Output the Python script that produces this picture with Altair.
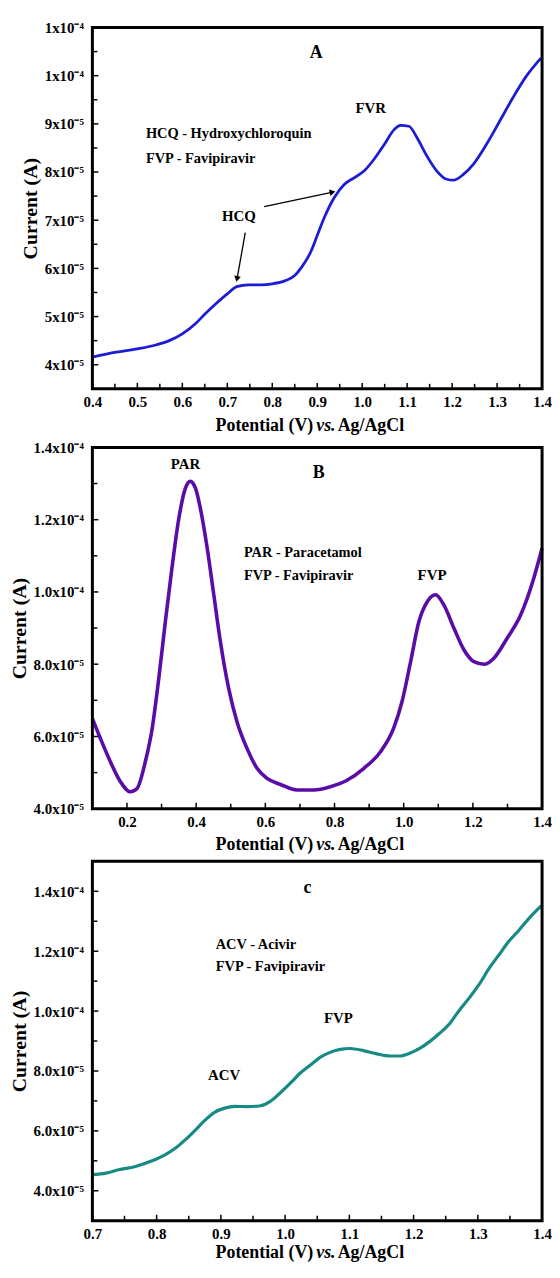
import json
import altair as alt
import pandas as pd

FONT = "Liberation Serif"
W = 453

# ---------------- Panel A : HCQ + FVP ----------------
a_potential = [0.40, 0.453, 0.50, 0.541, 0.571, 0.60, 0.629, 0.651, 0.674, 0.70,
               0.721, 0.747, 0.776, 0.80, 0.828, 0.85, 0.865, 0.887, 0.901, 0.916,
               0.938, 0.96, 0.982, 1.004, 1.026, 1.049, 1.071, 1.085, 1.104, 1.122,
               1.144, 1.166, 1.188, 1.203, 1.225, 1.247, 1.276, 1.306, 1.335, 1.365, 1.398]
# current in units of 1e-5 A
a_current = [4.16, 4.26, 4.33, 4.41, 4.50, 4.64, 4.85, 5.06, 5.26, 5.47,
             5.62, 5.66, 5.66, 5.68, 5.74, 5.85, 6.02, 6.37, 6.71, 7.06,
             7.47, 7.74, 7.88, 8.02, 8.26, 8.57, 8.88, 8.97, 8.95, 8.71,
             8.33, 8.02, 7.85, 7.83, 7.95, 8.16, 8.57, 9.06, 9.54, 9.99, 10.37]
a_ytick_vals = [4, 5, 6, 7, 8, 9, 10, 11]
a_ytick_labels = ["4x10⁻⁵", "5x10⁻⁵", "6x10⁻⁵", "7x10⁻⁵", "8x10⁻⁵", "9x10⁻⁵", "1x10⁻⁴", "1x10⁻⁴"]
a_yminor = [4.5, 5.5, 6.5, 7.5, 8.5, 9.5, 10.5]
a_xtick_vals = [0.4, 0.5, 0.6, 0.7, 0.8, 0.9, 1.0, 1.1, 1.2, 1.3, 1.4]
a_xminor = [0.45, 0.55, 0.65, 0.75, 0.85, 0.95, 1.05, 1.15, 1.25, 1.35]
a_center_text = ["FVR", "HCQ"]
a_center_x = [1.019, 0.726]
a_center_y = [9.33, 7.09]
a_left_text = ["HCQ - Hydroxychloroquin", "FVP - Favipiravir"]
a_left_x = [0.519, 0.519]
a_left_y = [8.78, 8.28]
a_arrow_x1 = [0.740, 0.782]
a_arrow_y1 = [6.74, 7.28]
a_arrow_x2 = [0.722, 0.932]
a_arrow_y2 = [5.80, 7.58]

# ---------------- Panel B : PAR + FVP ----------------
b_potential = [0.10, 0.123, 0.152, 0.181, 0.21, 0.229, 0.253, 0.273, 0.292, 0.311,
               0.330, 0.350, 0.369, 0.383, 0.398, 0.412, 0.432, 0.451, 0.470, 0.494,
               0.518, 0.547, 0.576, 0.605, 0.644, 0.692, 0.740, 0.788, 0.836, 0.885,
               0.933, 0.971, 0.995, 1.020, 1.044, 1.068, 1.092, 1.116, 1.145, 1.174,
               1.203, 1.232, 1.260, 1.299, 1.338, 1.376, 1.400]
b_current = [6.50, 5.95, 5.30, 4.75, 4.47, 4.56, 5.30, 6.23, 7.61, 9.18,
             10.66, 12.04, 12.87, 13.06, 12.87, 12.32, 11.21, 9.92, 8.63, 7.33,
             6.41, 5.67, 5.12, 4.84, 4.67, 4.52, 4.52, 4.61, 4.79, 5.12,
             5.58, 6.23, 6.96, 8.07, 9.18, 9.73, 9.92, 9.64, 9.00, 8.40,
             8.07, 8.00, 8.16, 8.72, 9.36, 10.38, 11.21]
b_ytick_vals = [4, 6, 8, 10, 12, 14]
b_ytick_labels = ["4.0x10⁻⁵", "6.0x10⁻⁵", "8.0x10⁻⁵", "1.0x10⁻⁴", "1.2x10⁻⁴", "1.4x10⁻⁴"]
b_yminor = [5, 7, 9, 11, 13]
b_xtick_vals = [0.2, 0.4, 0.6, 0.8, 1.0, 1.2, 1.4]
b_xminor = [0.3, 0.5, 0.7, 0.9, 1.1, 1.3]
b_center_text = ["PAR", "FVP"]
b_center_x = [0.369, 1.082]
b_center_y = [13.54, 10.47]
b_left_text = ["PAR - Paracetamol", "FVP - Favipiravir"]
b_left_x = [0.538, 0.538]
b_left_y = [11.07, 10.43]

# ---------------- Panel C : ACV + FVP ----------------
c_potential = [0.70, 0.721, 0.741, 0.767, 0.793, 0.813, 0.829, 0.844, 0.860, 0.875,
               0.890, 0.906, 0.921, 0.942, 0.962, 0.978, 0.993, 1.009, 1.024, 1.040,
               1.055, 1.071, 1.086, 1.101, 1.122, 1.143, 1.163, 1.179, 1.194, 1.210,
               1.225, 1.240, 1.256, 1.271, 1.287, 1.302, 1.318, 1.333, 1.348, 1.364,
               1.379, 1.399]
c_current = [4.54, 4.59, 4.70, 4.81, 5.00, 5.20, 5.42, 5.69, 6.02, 6.35,
             6.62, 6.76, 6.82, 6.81, 6.84, 7.00, 7.28, 7.61, 7.94, 8.21,
             8.46, 8.63, 8.72, 8.75, 8.68, 8.57, 8.50, 8.50, 8.59, 8.76,
             8.98, 9.25, 9.58, 10.02, 10.45, 10.89, 11.44, 11.88, 12.32, 12.70,
             13.08, 13.52]
c_ytick_vals = [4, 6, 8, 10, 12, 14]
c_ytick_labels = ["4.0x10⁻⁵", "6.0x10⁻⁵", "8.0x10⁻⁵", "1.0x10⁻⁴", "1.2x10⁻⁴", "1.4x10⁻⁴"]
c_yminor = [5, 7, 9, 11, 13]
c_xtick_vals = [0.7, 0.8, 0.9, 1.0, 1.1, 1.2, 1.3, 1.4]
c_xminor = [0.75, 0.85, 0.95, 1.05, 1.15, 1.25, 1.35]
c_center_text = ["FVP", "ACV"]
c_center_x = [1.083, 0.905]
c_center_y = [9.78, 7.88]
c_left_text = ["ACV - Acivir", "FVP - Favipiravir"]
c_left_x = [0.892, 0.892]
c_left_y = [12.21, 11.46]


def label_expr(vals, labels):
    return "%s[indexof(%s, datum.value)]" % (
        json.dumps(labels, ensure_ascii=False), json.dumps(vals))


def panel(pot, cur, color, lw, xdom, ydom, xvals, xminor, yvals, yminor, ylabels,
          H, letter, letter_x, letter_y, ctext, cx, cy, ltext, lx, ly,
          title_dy, title_size, arrows=None):
    X = alt.X("x:Q", scale=alt.Scale(domain=xdom, nice=False, zero=False),
              axis=alt.Axis(values=xvals, format=".1f", tickSize=0, domain=False, grid=False,
                            labelFont=FONT, labelFontSize=15, labelFontWeight="bold",
                            labelColor="black", labelPadding=6, title=None,
                            labelFlush=False, labelOverlap=False))
    Y = alt.Y("y:Q", scale=alt.Scale(domain=ydom, nice=False, zero=False),
              axis=alt.Axis(values=yvals, labelExpr=label_expr(yvals, ylabels), tickSize=0,
                            domain=False, grid=False, labelFont=FONT, labelFontSize=15,
                            labelFontWeight="bold", labelColor="black", labelPadding=9,
                            labelFlush=False, labelOverlap=False,
                            title="Current (A)", titleFont=FONT, titleFontSize=20,
                            titleFontWeight="bold", titleColor="black", titlePadding=4))
    frame = alt.Chart(pd.DataFrame({"f": [0]})).mark_rect(
        filled=False, stroke="black", strokeWidth=3).encode(
        x=alt.value(0), x2=alt.value(W), y=alt.value(0), y2=alt.value(H))
    line = alt.Chart(pd.DataFrame({"x": pot, "y": cur})).mark_line(
        color=color, strokeWidth=lw, interpolate="monotone").encode(x=X, y=Y)

    ymaj_df = pd.DataFrame({"y": yvals})
    ymin_df = pd.DataFrame({"y": yminor})
    xmaj_df = pd.DataFrame({"x": xvals})
    xmin_df = pd.DataFrame({"x": xminor})
    tk = dict(color="black", strokeWidth=1.5)
    t1 = alt.Chart(ymaj_df).mark_rule(**tk).encode(y=Y, x=alt.value(0), x2=alt.value(6))
    t2 = alt.Chart(ymin_df).mark_rule(**tk).encode(y=Y, x=alt.value(0), x2=alt.value(5))
    t3 = alt.Chart(xmaj_df).mark_rule(**tk).encode(x=X, y=alt.value(H), y2=alt.value(H - 6))
    t4 = alt.Chart(xmin_df).mark_rule(**tk).encode(x=X, y=alt.value(H), y2=alt.value(H - 5))

    lett = alt.Chart(pd.DataFrame({"x": [letter_x], "y": [letter_y], "t": [letter]})).mark_text(
        font=FONT, fontSize=18, fontWeight="bold", color="black").encode(x=X, y=Y, text="t:N")
    cen = alt.Chart(pd.DataFrame({"x": cx, "y": cy, "t": ctext})).mark_text(
        font=FONT, fontSize=15, fontWeight="bold", color="black").encode(x=X, y=Y, text="t:N")
    left = alt.Chart(pd.DataFrame({"x": lx, "y": ly, "t": ltext})).mark_text(
        font=FONT, fontSize=14.5, fontWeight="bold", color="black", align="left").encode(
        x=X, y=Y, text="t:N")

    p = W / 2 - 1
    s = title_size
    tdf = pd.DataFrame({"t": ["Potential (V)"]})
    tv = pd.DataFrame({"t": ["vs."]})
    ta = pd.DataFrame({"t": ["Ag/AgCl"]})
    tstyle = dict(font=FONT, fontSize=s, fontWeight="bold", color="black", baseline="middle")
    ti1 = alt.Chart(tdf).mark_text(align="right", **tstyle).encode(
        x=alt.value(p - 3), y=alt.value(H + title_dy), text="t:N")
    ti2 = alt.Chart(tv).mark_text(align="left", fontStyle="italic", **tstyle).encode(
        x=alt.value(p), y=alt.value(H + title_dy), text="t:N")
    ti3 = alt.Chart(ta).mark_text(align="left", **tstyle).encode(
        x=alt.value(p + s * 1.2), y=alt.value(H + title_dy), text="t:N")

    layers = [line, frame, t1, t2, t3, t4, lett, cen, left, ti1, ti2, ti3]
    if arrows is not None:
        x1, y1, x2, y2, angles = arrows
        adf = pd.DataFrame({"x": x1, "y": y1, "x2": x2, "y2": y2})
        layers.append(alt.Chart(adf).mark_rule(color="black", strokeWidth=1.3).encode(
            x=X, y=Y, x2="x2:Q", y2="y2:Q"))
        for i, ang in enumerate(angles):
            hd = pd.DataFrame({"x": [x2[i]], "y": [y2[i]]})
            layers.append(alt.Chart(hd).mark_point(shape="triangle", filled=True, color="black",
                                                   size=45, angle=ang, opacity=1).encode(x=X, y=Y))
    return alt.layer(*layers).properties(width=W, height=H)


pA = panel(a_potential, a_current, "#1c1cd4", 2.8, [0.4, 1.4], [3.5, 11], a_xtick_vals, a_xminor,
           a_ytick_vals, a_yminor, a_ytick_labels, 364, "A", 0.898, 10.47,
           a_center_text, a_center_x, a_center_y, a_left_text, a_left_x, a_left_y,
           37, 18, arrows=(a_arrow_x1, a_arrow_y1, a_arrow_x2, a_arrow_y2, [190, 78]))
pB = panel(b_potential, b_current, "#5a0ca8", 3.6, [0.1, 1.4], [4, 14], b_xtick_vals, b_xminor,
           b_ytick_vals, b_yminor, b_ytick_labels, 364, "B", 0.754, 13.29,
           b_center_text, b_center_x, b_center_y, b_left_text, b_left_x, b_left_y,
           37, 18)
pC = panel(c_potential, c_current, "#178a84", 3.2, [0.7, 1.4], [3, 15], c_xtick_vals, c_xminor,
           c_ytick_vals, c_yminor, c_ytick_labels, 362, "c", 1.035, 14.12,
           c_center_text, c_center_x, c_center_y, c_left_text, c_left_x, c_left_y,
           33, 18)

chart = alt.vconcat(pA, pB, pC, spacing=4).properties(
    padding={"left": 0, "top": 7, "right": 0, "bottom": 0}
).configure_view(stroke=None).configure(background="white")

chart.save("out.html", embed_options={"renderer": "svg", "actions": False})
